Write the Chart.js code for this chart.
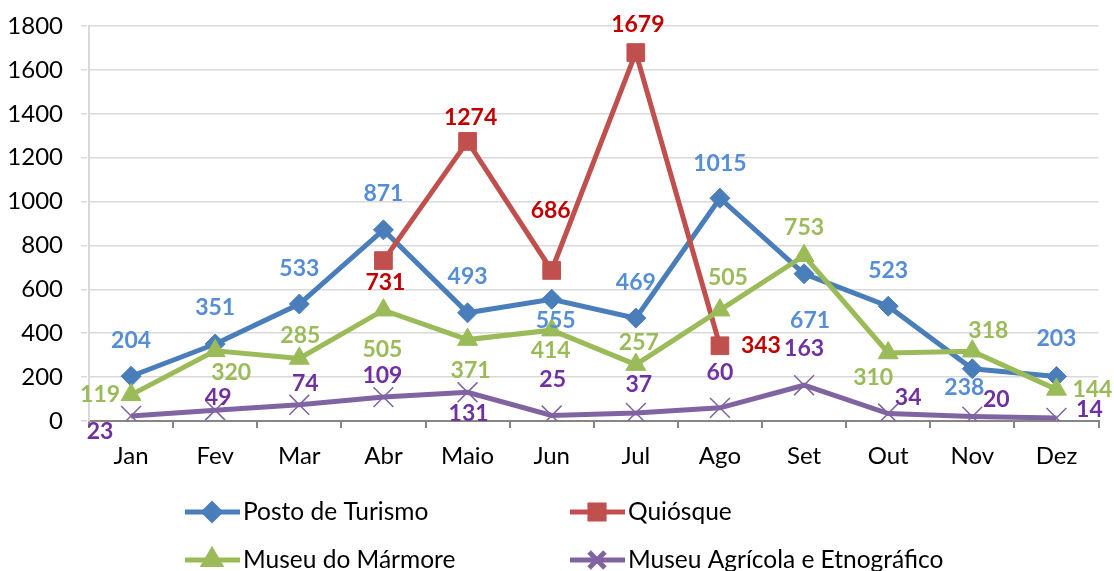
<!DOCTYPE html>
<html>
<head>
<meta charset="utf-8">
<script src="https://cdn.jsdelivr.net/npm/chart.js@4/dist/chart.umd.min.js"></script>
<style>
  html, body { margin: 0; padding: 0; background: #fff; }
  #wrap { width: 1114px; height: 571px; }
</style>
</head>
<body>
<div id="wrap"><canvas id="chart" width="1114" height="571"></canvas></div>
<script>
const months = ["Jan", "Fev", "Mar", "Abr", "Maio", "Jun", "Jul", "Ago", "Set", "Out", "Nov", "Dez"];
const seriesNames = ["Posto de Turismo", "Quiósque", "Museu do Mármore", "Museu Agrícola e Etnográfico"];

const posto = [204, 351, 533, 871, 493, 555, 469, 1015, 671, 523, 238, 203];
const quiosque = [null, null, null, 731, 1274, 686, 1679, 343, null, null, null, null];
const marmore = [119, 320, 285, 505, 371, 414, 257, 505, 753, 310, 318, 144];
const agricola = [23, 49, 74, 109, 131, 25, 37, 60, 163, 34, 20, 14];

const yTicks = [0, 200, 400, 600, 800, 1000, 1200, 1400, 1600, 1800];

// where each value label sits relative to its point [dx, dy]
const postoLabelPos = [[0,-36],[0,-36],[0,-35],[0,-36],[0,-36],[4,21],[0,-36],[0,-35],[6,47],[0,-36],[-8,19],[0,-38]];
const quiosqueLabelPos = [null, null, null, [2,22],[3,-24],[-1,-60],[2,-28],[41,0], null, null, null, null];
const marmoreLabelPos = [[-31,0],[16,22],[1,-23],[-1,39],[3,31],[-1,20],[3,-22],[8,-33],[0,-28],[-15,25],[16,-21],[36,0]];
const agricolaLabelPos = [[-31,16],[3,-13],[6,-21],[-1,-22],[1,21],[1,-36],[3,-28],[0,-35],[0,-37],[20,-16],[24,-17],[33,-8]];

const FONT = "Lato, 'Open Sans', sans-serif";

const valueLabels = {
    id: 'valueLabels',
    afterDatasetsDraw(chart) {
        const ctx = chart.ctx;
        ctx.save();
        ctx.font = "bold 23px " + FONT;
        ctx.textAlign = 'center';
        ctx.textBaseline = 'middle';
        chart.data.datasets.forEach((ds, i) => {
            const meta = chart.getDatasetMeta(i);
            meta.data.forEach((pt, j) => {
                const v = ds.data[j];
                if (v === null || v === undefined) return;
                const off = ds.labelPos[j] || [0, -30];
                ctx.fillStyle = ds.labelColor;
                ctx.fillText(String(v), pt.x + off[0], pt.y + off[1]);
            });
        });
        ctx.restore();
    }
};

const gridLegend = {
    id: 'gridLegend',
    afterDraw(chart) {
        const ctx = chart.ctx;
        const cols = [185, 570];
        const rows = [512, 560];
        ctx.save();
        chart.data.datasets.forEach((ds, i) => {
            const x = cols[i % 2];
            const y = rows[Math.floor(i / 2)];
            ctx.strokeStyle = ds.borderColor;
            ctx.lineWidth = 5;
            ctx.beginPath();
            ctx.moveTo(x, y);
            ctx.lineTo(x + 55, y);
            ctx.stroke();
            Chart.helpers.drawPoint(ctx, {
                pointStyle: ds.pointStyle,
                radius: ds.pointRadius * 0.8,
                borderWidth: ds.pointBorderWidth,
                rotation: 0
            }, x + 27, y);
            if (ds.pointStyle !== 'crossRot') {
                ctx.fillStyle = ds.pointBackgroundColor;
                ctx.fill();
            }
            ctx.fillStyle = '#000';
            ctx.font = "24.5px " + FONT;
            ctx.textAlign = 'left';
            ctx.textBaseline = 'middle';
            ctx.fillText(ds.label, x + 58, y);
        });
        ctx.restore();
    }
};

function series(label, data, color, labelColor, style, radius, pbw, labelPos, order) {
    return {
        label: label,
        data: data,
        borderColor: color,
        backgroundColor: color,
        borderWidth: 5,
        pointStyle: style,
        pointRadius: radius,
        pointHoverRadius: radius,
        pointBackgroundColor: color,
        pointBorderColor: color,
        pointBorderWidth: pbw,
        tension: 0,
        spanGaps: false,
        labelColor: labelColor,
        labelPos: labelPos,
        order: order
    };
}

new Chart(document.getElementById('chart'), {
    type: 'line',
    data: {
        labels: months,
        datasets: [
            series(seriesNames[0], posto, '#4a7ebb', '#558ed5', 'rectRot', 10, 1, postoLabelPos, 4),
            series(seriesNames[1], quiosque, '#c0504d', '#c00000', 'rect', 12.5, 1, quiosqueLabelPos, 3),
            series(seriesNames[2], marmore, '#9bbb59', '#9bbb59', 'triangle', 11.5, 1, marmoreLabelPos, 2),
            series(seriesNames[3], agricola, '#8064a2', '#7030a0', 'crossRot', 14, 1.5, agricolaLabelPos, 1)
        ]
    },
    options: {
        responsive: false,
        animation: false,
        layout: { padding: { left: 0, right: 14, top: 26, bottom: 100 } },
        plugins: {
            legend: { display: false },
            tooltip: { enabled: false }
        },
        scales: {
            x: {
                offset: true,
                afterFit(scale) {
                    scale.height = 50;
                    scale.paddingLeft = 0;
                    scale.paddingRight = 0;
                },
                grid: {
                    offset: true,
                    drawOnChartArea: false,
                    color: '#868686',
                    lineWidth: 2,
                    tickLength: 7
                },
                border: { color: '#868686', width: 2 },
                ticks: {
                    color: '#000',
                    font: { family: FONT, size: 24 },
                    padding: 14,
                    maxRotation: 0,
                    autoSkip: false
                }
            },
            y: {
                min: 0,
                max: 1800,
                afterFit(scale) {
                    scale.width = 89;
                    scale.paddingTop = 0;
                    scale.paddingBottom = 0;
                },
                afterBuildTicks(scale) { scale.ticks = yTicks.map(v => ({ value: v })); },
                grid: {
                    color: '#d9d9d9',
                    lineWidth: 1.5,
                    tickLength: 8,
                    tickBorderDash: [6, 4]
                },
                border: { color: '#d9d9d9', width: 2 },
                ticks: {
                    color: '#000',
                    font: { family: FONT, size: 24 },
                    padding: 18,
                    callback: (v) => String(v)
                }
            }
        }
    },
    plugins: [valueLabels, gridLegend]
});
</script>
</body>
</html>
